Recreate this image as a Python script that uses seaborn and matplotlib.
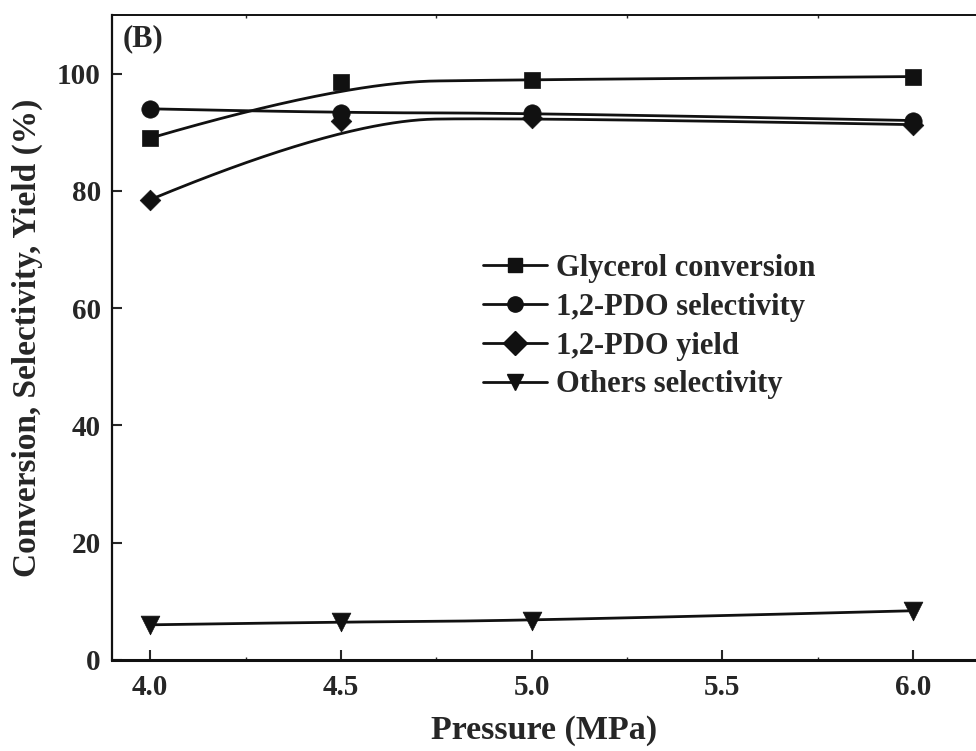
import numpy as np
import pandas as pd
import matplotlib
matplotlib.use("Agg")
import matplotlib.pyplot as plt
from matplotlib.lines import Line2D
from matplotlib.ticker import MultipleLocator
import seaborn as sns

# ---- data ----
pressure = [4.0, 4.5, 5.0, 6.0]
glycerol_conversion = [89.0, 98.5, 99.0, 99.5]
pdo_selectivity = [94.0, 93.3, 93.3, 92.0]
pdo_yield = [78.5, 92.0, 92.5, 91.3]
others_selectivity = [6.0, 6.5, 6.7, 8.4]
series_names = ["Glycerol conversion", "1,2-PDO selectivity",
                "1,2-PDO yield", "Others selectivity"]
x_ticks = [4.0, 4.5, 5.0, 5.5, 6.0]
x_tick_labels = ["4.0", "4.5", "5.0", "5.5", "6.0"]
y_ticks = [0, 20, 40, 60, 80, 100]

sns.set_theme(style="ticks")
plt.rcParams["font.family"] = ["Liberation Serif", "DejaVu Serif"]
plt.rcParams["font.weight"] = "bold"


def bspline_quadratic(px, py, n=200):
    """Clamped quadratic B-spline using the data points as control points."""
    px = np.asarray(px, float)
    py = np.asarray(py, float)
    k = 2
    m = len(px)
    inner = np.linspace(0, 1, m - k + 1)[1:-1]
    knots = np.concatenate([[0] * (k + 1), inner, [1] * (k + 1)])
    u = np.linspace(0, 1, n)
    u[-1] = 1 - 1e-12

    def basis(i, p, t):
        if p == 0:
            return ((knots[i] <= t) & (t < knots[i + 1])).astype(float)
        a = 0.0
        d1 = knots[i + p] - knots[i]
        d2 = knots[i + p + 1] - knots[i + 1]
        if d1 > 0:
            a = a + (t - knots[i]) / d1 * basis(i, p - 1, t)
        if d2 > 0:
            a = a + (knots[i + p + 1] - t) / d2 * basis(i + 1, p - 1, t)
        return a

    B = np.array([basis(i, k, u) for i in range(m)])
    return B.T @ px, B.T @ py


fig = plt.figure(figsize=(9.76, 7.51), dpi=100)
ax = fig.add_axes([112 / 976, 1 - 660 / 751, 1 - 112 / 976, 645 / 751])

markers = ["s", "o", "D", "v"]
msizes = [11.5, 12.5, 10.5, 13.5]
color = "#111111"
all_series = [glycerol_conversion, pdo_selectivity, pdo_yield, others_selectivity]

for name, vals, mk, ms in zip(series_names, all_series, markers, msizes):
    cx, cy = bspline_quadratic(pressure, vals)
    sns.lineplot(x=cx, y=cy, ax=ax, color=color, lw=2.0, sort=False,
                 estimator=None, legend=False)
    sns.scatterplot(x=pressure, y=vals, ax=ax, marker=mk, s=ms ** 2,
                    color=color, edgecolor=color, linewidth=0.5,
                    legend=False, zorder=3)

ax.set_xlim(3.9, 6.165)
ax.set_ylim(0, 110)
ax.set_xticks(x_ticks)
ax.set_xticklabels(x_tick_labels)
ax.set_yticks(y_ticks)
ax.xaxis.set_minor_locator(MultipleLocator(0.25))

ax.tick_params(axis="x", which="major", direction="in", length=7, width=1.5,
               labelsize=21, pad=10, top=False)
ax.tick_params(axis="x", which="minor", direction="in", length=2, width=1.0,
               top=True, bottom=True)
ax.tick_params(axis="y", which="major", direction="in", length=7, width=1.5,
               labelsize=21, pad=8)
for lab in ax.get_xticklabels() + ax.get_yticklabels():
    lab.set_fontweight("bold")

ax.spines["right"].set_visible(False)
ax.spines["bottom"].set_linewidth(2.2)
ax.spines["left"].set_linewidth(1.6)
ax.spines["top"].set_linewidth(1.4)
for s in ["bottom", "left", "top"]:
    ax.spines[s].set_color("#111111")

ax.set_xlabel("Pressure (MPa)", fontsize=24.5, fontweight="bold", labelpad=10)
ax.set_ylabel("Conversion, Selectivity, Yield (%)", fontsize=24,
              fontweight="bold", labelpad=10)

ax.text(0.012, 0.985, "(B)", transform=ax.transAxes, fontsize=22,
        fontweight="bold", va="top", ha="left")

leg_ms = [10, 11, 12, 12]
handles = [Line2D([], [], color=color, lw=2.0, marker=mk, markersize=ms,
                  markerfacecolor=color, markeredgecolor=color)
           for mk, ms in zip(markers, leg_ms)]
leg = ax.legend(handles, series_names, loc="upper left",
                bbox_to_anchor=((483 - 112) / 864, (660 - 254) / 645),
                frameon=False, borderpad=0, borderaxespad=0,
                handlelength=2.1, handletextpad=0.3, labelspacing=0.32,
                prop={"family": "Liberation Serif", "weight": "bold",
                      "size": 22})

fig.savefig("out.png", dpi=100, facecolor="white")
